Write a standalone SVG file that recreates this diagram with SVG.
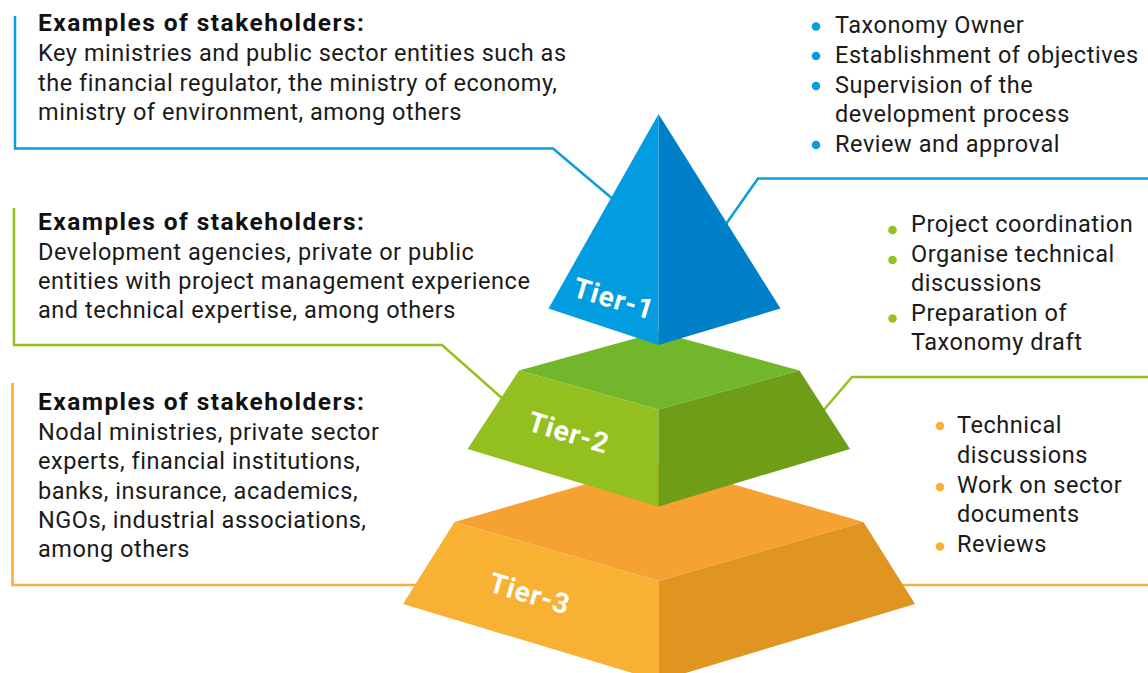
<svg xmlns="http://www.w3.org/2000/svg" width="1148" height="673" viewBox="0 0 1148 673">
<style>
.t{font-family:Roboto,"Liberation Sans",sans-serif;font-size:23.5px;letter-spacing:0.55px;fill:#1a1a1a}
.h{font-family:Roboto,"Liberation Sans",sans-serif;font-size:24.5px;letter-spacing:1.45px;font-weight:bold;fill:#111}
.tier{font-family:Roboto,"Liberation Sans",sans-serif;font-size:28px;font-weight:bold;fill:#fff;text-anchor:middle;letter-spacing:1px}
.ln{fill:none;stroke-width:2.5}
.blue{stroke:#0A9DDE}.green{stroke:#94C11F}.orange{stroke:#F7B03A}
</style>
<rect width="1148" height="673" fill="#fff"/>
<g id="connectors">
<polyline class="ln blue" points="15,16 15,148.5 553,148.5 614,200"/>
<polyline class="ln blue" points="1148,178.5 758,178.5 726,224"/>
<polyline class="ln green" points="14,208 14,345 442,345 503,399"/>
<polyline class="ln green" points="1148,377 852,377 822,412"/>
<polyline class="ln orange" points="12.5,383 12.5,585 420,585"/>
<polyline class="ln orange" points="898,585 1148,585"/>
</g>
<g id="tier3">
<polygon points="659,463 863.5,522 659,581 454.5,522" fill="#F5A233"/>
<polygon points="454.5,522 659,581 659,681 403,604" fill="#F8B133"/>
<polygon points="659,581 863.5,522 915,604 659,681" fill="#E09520"/>
<text class="tier" transform="translate(527,603) rotate(16.7)">Tier-3</text>
</g>
<g id="tier2">
<polygon points="658.5,332 799.5,370.5 658.5,409.5 519,370.5" fill="#72B62B"/>
<polygon points="519,370.5 658.5,409.5 658.5,506.5 467.5,449" fill="#93C01F"/>
<polygon points="658.5,409.5 799.5,370.5 850,449 658.5,506.5" fill="#6E9E18"/>
<text class="tier" transform="translate(566,442) rotate(16.7)">Tier-2</text>
</g>
<g id="tier1">
<polygon points="658.5,114 658.5,345 548.5,308.5" fill="#019DE0"/>
<polygon points="658.5,114 780.5,308.5 658.5,345" fill="#0080C8"/>
<text class="tier" transform="translate(611,308) rotate(16.7)">Tier-1</text>
</g>
<g id="left1">
<text class="h" x="38" y="31">Examples of stakeholders:</text>
<text class="t" x="38" y="61">Key ministries and public sector entities such as</text>
<text class="t" x="38" y="90.5">the financial regulator, the ministry of economy,</text>
<text class="t" x="38" y="120">ministry of environment, among others</text>
</g>
<g id="left2">
<text class="h" x="38" y="230">Examples of stakeholders:</text>
<text class="t" x="38" y="259.5">Development agencies, private or public</text>
<text class="t" x="38" y="289">entities with project management experience</text>
<text class="t" x="38" y="318">and technical expertise, among others</text>
</g>
<g id="left3">
<text class="h" x="38" y="410">Examples of stakeholders:</text>
<text class="t" x="38" y="440">Nodal ministries, private sector</text>
<text class="t" x="38" y="469">experts, financial institutions,</text>
<text class="t" x="38" y="498.5">banks, insurance, academics,</text>
<text class="t" x="38" y="528">NGOs, industrial associations,</text>
<text class="t" x="38" y="557">among others</text>
</g>
<g id="right1" fill="#0A9DDE">
<circle cx="816" cy="26.5" r="4.3"/><text class="t" x="835" y="33">Taxonomy Owner</text>
<circle cx="816" cy="56" r="4.3"/><text class="t" x="835" y="62.5">Establishment of objectives</text>
<circle cx="816" cy="86" r="4.3"/><text class="t" x="835" y="92.5">Supervision of the</text>
<text class="t" x="835" y="122">development process</text>
<circle cx="816" cy="145" r="4.3"/><text class="t" x="835" y="151.5">Review and approval</text>
</g>
<g id="right2" fill="#94C11F">
<circle cx="892.5" cy="230" r="4.3"/><text class="t" x="911" y="231.5">Project coordination</text>
<circle cx="892.5" cy="260" r="4.3"/><text class="t" x="911" y="261.5">Organise technical</text>
<text class="t" x="911" y="291">discussions</text>
<circle cx="892.5" cy="318.5" r="4.3"/><text class="t" x="911" y="320.5">Preparation of</text>
<text class="t" x="911" y="350">Taxonomy draft</text>
</g>
<g id="right3" fill="#F7B03A">
<circle cx="940" cy="426" r="4.3"/><text class="t" x="957" y="433">Technical</text>
<text class="t" x="957" y="463">discussions</text>
<circle cx="940" cy="487" r="4.3"/><text class="t" x="957" y="492.5">Work on sector</text>
<text class="t" x="957" y="522">documents</text>
<circle cx="940" cy="546.5" r="4.3"/><text class="t" x="957" y="552">Reviews</text>
</g>
</svg>
